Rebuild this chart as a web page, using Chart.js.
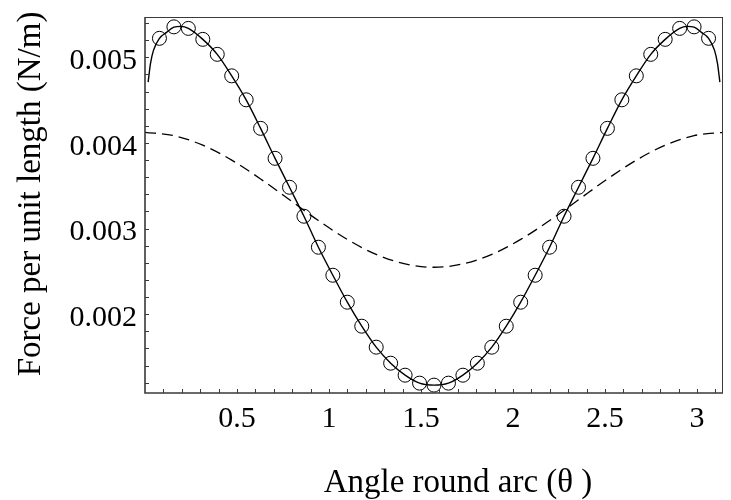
<!DOCTYPE html>
<html><head><meta charset="utf-8">
<script src="https://cdn.jsdelivr.net/npm/chart.js@4"></script>
<style>html,body{margin:0;padding:0;background:#fff}#wrap{width:731px;height:500px;position:relative}</style>
</head><body><div id="wrap"><canvas id="c"></canvas></div>
<script>
// ---- data ----
const circleTheta = [0.0785,0.1571,0.2356,0.3142,0.3927,0.4712,0.5498,0.6283,0.7069,0.7854,0.8639,0.9425,1.0210,1.0996,1.1781,1.2566,1.3352,1.4137,1.4923,1.5708,1.6493,1.7279,1.8064,1.8850,1.9635,2.0420,2.1206,2.1991,2.2777,2.3562,2.4347,2.5133,2.5918,2.6704,2.7489,2.8274,2.9060,2.9845,3.0631];
const circleForce = [0.005221,0.005355,0.005337,0.005209,0.005034,0.004783,0.004503,0.004170,0.003820,0.003482,0.003144,0.002782,0.002455,0.002140,0.001860,0.001615,0.001428,0.001288,0.001195,0.001172,0.001195,0.001288,0.001428,0.001615,0.001860,0.002140,0.002455,0.002782,0.003144,0.003482,0.003820,0.004170,0.004503,0.004783,0.005034,0.005209,0.005337,0.005355,0.005221];

const lineTheta = [0.017,0.030,0.046,0.0785,0.117,0.1571,0.196,0.2356,0.3142,0.3927,0.4712,0.5498,0.6283,0.7069,0.7854,0.8639,0.9425,1.0210,1.0996,1.1781,1.2566,1.3352,1.4137,1.4923,1.5708,1.6493,1.7279,1.8064,1.8850,1.9635,2.0420,2.1206,2.1991,2.2777,2.3562,2.4347,2.5133,2.5918,2.6704,2.7489,2.8274,2.9060,2.9456,2.9845,3.0246,3.0631,3.0956,3.1116,3.1246];
const lineForce = [0.004710,0.004929,0.005080,0.005221,0.005291,0.005352,0.005361,0.005337,0.005209,0.005034,0.004783,0.004503,0.004170,0.003820,0.003482,0.003144,0.002782,0.002455,0.002140,0.001860,0.001615,0.001428,0.001288,0.001195,0.001172,0.001195,0.001288,0.001428,0.001615,0.001860,0.002140,0.002455,0.002782,0.003144,0.003482,0.003820,0.004170,0.004503,0.004783,0.005034,0.005209,0.005337,0.005361,0.005352,0.005291,0.005221,0.005080,0.004929,0.004710];

const dashTheta = [0,0.1571,0.3142,0.4712,0.6283,0.7854,0.9425,1.0996,1.2566,1.4137,1.5708,1.7279,1.8850,2.0420,2.1991,2.3562,2.5133,2.6704,2.8274,2.9845,3.1416];
const dashForce = [0.004124,0.004085,0.003973,0.003799,0.003579,0.003336,0.003093,0.002873,0.002698,0.002587,0.002548,0.002587,0.002698,0.002873,0.003093,0.003336,0.003579,0.003799,0.003973,0.004085,0.004124];

const xTickValues = [0.5,1,1.5,2,2.5,3];
const xTickLabels = ['0.5','1','1.5','2','2.5','3'];
const yTickValues = [0.002,0.003,0.004,0.005];
const yTickLabels = ['0.002','0.003','0.004','0.005'];
const xTitle = 'Angle round arc (\u03B8 )';
const yTitle = 'Force per unit length (N/m)';

// ---- chart ----
const pts = (xs, ys) => xs.map((v, i) => ({x: v, y: ys[i]}));
const FONT = 'Liberation Serif';
Chart.defaults.font.family = FONT;
Chart.defaults.color = '#000';

const decor = {
  id: 'decor',
  afterDraw(chart) {
    const {ctx, chartArea: a, scales: {x, y}} = chart;
    ctx.save();
    ctx.strokeStyle = '#3a3a3a';
    ctx.lineWidth = 1;
    ctx.beginPath();
    ctx.moveTo(a.left, a.top + 0.5); ctx.lineTo(a.right, a.top + 0.5);
    ctx.moveTo(a.right - 0.5, a.top); ctx.lineTo(a.right - 0.5, a.bottom);
    ctx.stroke();
    ctx.lineWidth = 1.6;
    ctx.beginPath();
    ctx.moveTo(a.left, a.top); ctx.lineTo(a.left, a.bottom);
    ctx.lineTo(a.right, a.bottom);
    ctx.stroke();
    // inward minor/major ticks
    ctx.lineWidth = 1;
    ctx.beginPath();
    for (let i = 1; i <= 31; i++) {
      const px = Math.round(x.getPixelForValue(i / 10)) + 0.5;
      ctx.moveTo(px, a.bottom); ctx.lineTo(px, a.bottom - 4);
    }
    for (let i = 6; i <= 27; i++) {
      const py = Math.round(y.getPixelForValue(i * 0.0002)) + 0.5;
      if (py > a.bottom - 1 || py < a.top + 1) continue;
      ctx.moveTo(a.left, py); ctx.lineTo(a.left + 4, py);
    }
    ctx.stroke();
    // axis titles
    ctx.fillStyle = '#000';
    ctx.font = '33px "' + FONT + '"';
    ctx.textAlign = 'center';
    ctx.textBaseline = 'middle';
    ctx.fillText(xTitle, 458, 483);
    ctx.translate(31, 194);
    ctx.rotate(-Math.PI / 2);
    ctx.fillText(yTitle, 0, 0);
    ctx.restore();
  }
};

new Chart(document.getElementById('c'), {
  type: 'line',
  data: {
    datasets: [
      {data: pts(lineTheta, lineForce), borderColor: '#000', borderWidth: 1.4, pointRadius: 0, cubicInterpolationMode: 'monotone', fill: false},
      {data: pts(dashTheta, dashForce), borderColor: '#000', borderWidth: 1.3, borderDash: [11, 6], pointRadius: 0, cubicInterpolationMode: 'monotone', fill: false},
      {data: pts(circleTheta, circleForce), showLine: false, pointStyle: 'circle', pointRadius: 7, borderColor: '#000', borderWidth: 1, backgroundColor: 'rgba(0,0,0,0)'}
    ]
  },
  options: {
    responsive: true, maintainAspectRatio: false, animation: false,
    devicePixelRatio: 1,
    layout: {padding: {top: 17, right: 6, left: 0, bottom: 0}},
    plugins: {legend: {display: false}, tooltip: {enabled: false}},
    scales: {
      x: {
        type: 'linear', min: 0, max: Math.PI,
        afterBuildTicks: s => { s.ticks = xTickValues.map(v => ({value: v})); },
        afterFit: s => { s.height = 107; s.paddingLeft = 0; s.paddingRight = 0; },
        ticks: {font: {size: 30}, padding: 8, maxRotation: 0, autoSkip: false,
          callback: v => xTickLabels[xTickValues.indexOf(v)]},
        grid: {display: false, drawTicks: false}, border: {display: false}
      },
      y: {
        min: 0.00108, max: 0.00547,
        afterBuildTicks: s => { s.ticks = yTickValues.map(v => ({value: v})); },
        afterFit: s => { s.width = 145; s.paddingTop = 0; s.paddingBottom = 0; },
        ticks: {font: {size: 30}, padding: 8, labelOffset: 4, autoSkip: false,
          callback: v => yTickLabels[yTickValues.indexOf(v)]},
        grid: {display: false, drawTicks: false}, border: {display: false}
      }
    }
  },
  plugins: [decor]
});
</script>
</body></html>
